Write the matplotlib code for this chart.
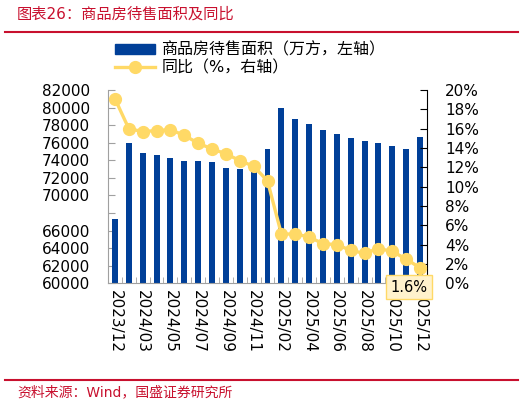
import matplotlib

matplotlib.use("Agg")
import matplotlib.pyplot as plt
from matplotlib.lines import Line2D
from matplotlib.patches import Patch
import numpy as np

plt.rcParams["font.family"] = ["DejaVu Sans", "Noto Sans CJK SC"]

months = [
    "2023/12", "2024/02", "2024/03", "2024/04", "2024/05", "2024/06", "2024/07", "2024/08",
    "2024/09", "2024/10", "2024/11", "2024/12", "2025/02", "2025/03", "2025/04", "2025/05",
    "2025/06", "2025/07", "2025/08", "2025/09", "2025/10", "2025/11", "2025/12",
]
area = [
    67350, 76000, 74860, 74600, 74260, 73950, 73950, 73840, 73160, 73040, 72930, 75320,
    79950, 78730, 78170, 77480, 77030, 76570, 76230, 76000, 75660, 75320, 76690,
]
yoy = [
    19.1, 16.0, 15.7, 15.8, 15.9, 15.3, 14.5, 13.9, 13.4, 12.7, 12.1, 10.6,
    5.1, 5.1, 4.8, 4.1, 4.0, 3.4, 3.1, 3.6, 3.3, 2.5, 1.6,
]
left_ticks = list(range(60000, 82001, 2000))
left_labels = [str(v) if v != 68000 else "" for v in left_ticks]
right_ticks = list(range(0, 21, 2))

BLUE = "#003F98"
YELLOW = "#FFD966"
RED = "#C8102E"

fig = plt.figure(figsize=(5.31, 4.05), dpi=100)
ax = fig.add_axes([108 / 531, 1 - 283.3 / 405, 319 / 531, 193.3 / 405])
x = np.arange(len(months))
ax.bar(x, area, width=0.43, color=BLUE, zorder=2)
ax.set_xlim(-0.5, len(months) - 0.5)
ax.set_ylim(60000, 82000)
ax.set_yticks(left_ticks)
ax.set_yticklabels(left_labels)
ax.set_xticks(x[::2])
ax.set_xticklabels(months[::2], rotation=-90, va="top", ha="center")
ax.set_xticks(np.arange(-0.5, len(months), 1), minor=True)
ax.tick_params(axis="x", which="major", length=0, pad=5, labelsize=11)
ax.tick_params(axis="x", which="minor", direction="in", length=4, color="#A0A0A0")
ax.tick_params(axis="y", direction="in", length=5, color="#A0A0A0", pad=13, labelsize=11)
for side in ("top", "right"):
    ax.spines[side].set_visible(False)
for side in ("left", "bottom"):
    ax.spines[side].set_color("#A0A0A0")

ax2 = ax.twinx()
ax2.plot(x, yoy, color=YELLOW, lw=2.4, marker="o", ms=8.5, zorder=3)
ax2.set_ylim(0, 20)
ax2.set_yticks(right_ticks)
ax2.set_yticklabels([f"{v}%" for v in right_ticks])
ax2.tick_params(axis="y", direction="in", length=5, pad=13, labelsize=11)
for side in ("top", "left", "bottom"):
    ax2.spines[side].set_visible(False)
ax2.annotate("1.6%", xy=(x[-1], yoy[-1]), xytext=(-8, -14), textcoords="offset points",
             ha="center", va="center", fontsize=10.5, zorder=5,
             bbox=dict(boxstyle="square,pad=0.3", fc="#FFF2CC", ec=YELLOW, lw=1))

handles = [Patch(color=BLUE), Line2D([], [], color=YELLOW, lw=2.4, marker="o", ms=8.5)]
labels = ["商品房待售面积（万方，左轴）", "同比（%，右轴）"]
fig.legend(handles, labels, loc="upper left", bbox_to_anchor=(115 / 531, 1 - 42 / 405),
           frameon=False, fontsize=11.5, handlelength=2.5, handleheight=0.6,
           handletextpad=0.4, labelspacing=0.15, borderpad=0, borderaxespad=0)

fig.text(17 / 531, 1 - 14 / 405, "图表26：商品房待售面积及同比", color=RED, fontsize=11,
         va="center", ha="left")
fig.add_artist(Line2D([5 / 531, 518 / 531], [1 - 32 / 405] * 2, color=RED, lw=1.5))
fig.add_artist(Line2D([5 / 531, 518 / 531], [1 - 380 / 405] * 2, color=RED, lw=1.5))
fig.text(17 / 531, 1 - 392 / 405, "资料来源：Wind，国盛证券研究所", color=RED, fontsize=10,
         va="center", ha="left")

fig.savefig("out.png", dpi=100)
